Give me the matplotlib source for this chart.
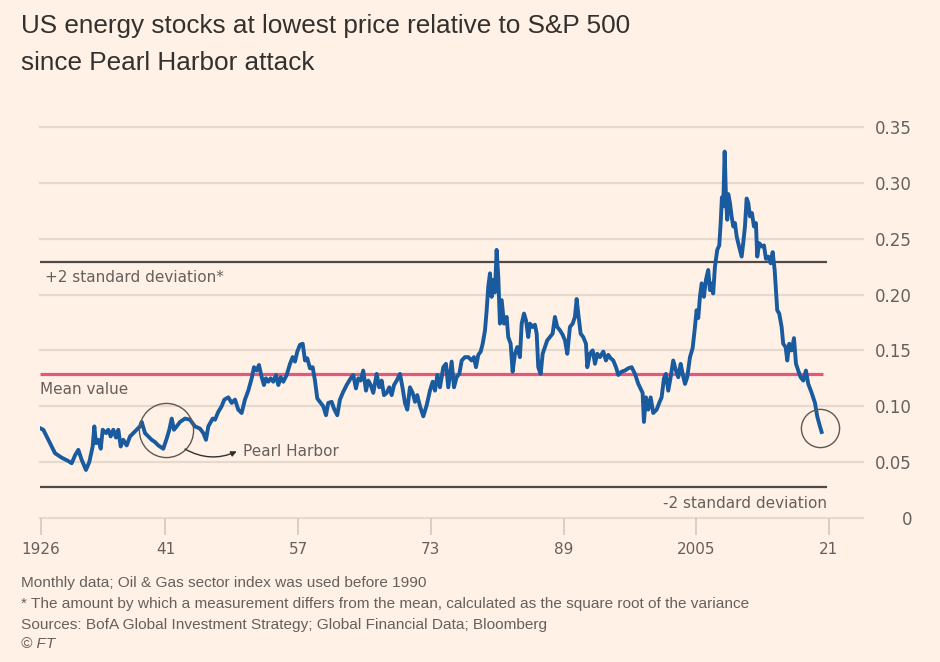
import matplotlib
matplotlib.use("Agg")
import matplotlib.pyplot as plt

# ---------------- data ----------------
years = [
 1926.00,1926.28,1926.88,1927.69,1928.50,1929.29,1929.70,1930.10,1930.50,1930.91,
 1931.42,1931.82,1932.23,1932.43,1932.63,1932.91,1933.20,1933.44,1933.84,1934.11,
 1934.40,1934.72,1935.04,1935.32,1935.61,1935.92,1936.33,1936.73,1937.13,1937.54,
 1937.93,1938.14,1938.54,1938.94,1939.34,1939.74,1940.14,1940.74,1941.15,1941.47,
 1941.76,1942.03,1942.36,1942.76,1943.36,1943.96,1944.56,1945.17,1945.57,1945.89,
 1946.17,1946.70,1946.98,1947.37,1947.78,1948.10,1948.58,1948.99,1949.39,1949.78,
 1950.19,1950.59,1950.99,1951.40,1951.68,1952.00,1952.28,1952.61,1952.88,1953.12,
 1953.40,1953.69,1954.00,1954.33,1954.61,1954.90,1955.21,1955.62,1956.02,1956.34,
 1956.62,1956.90,1957.22,1957.55,1957.83,1958.10,1958.43,1958.75,1959.03,1959.31,
 1959.72,1960.03,1960.36,1960.63,1961.04,1961.32,1961.72,1962.04,1962.44,1962.85,
 1963.33,1963.65,1963.97,1964.25,1964.54,1964.85,1965.18,1965.46,1965.75,1966.06,
 1966.47,1966.78,1967.07,1967.35,1967.68,1967.99,1968.28,1968.56,1968.88,1969.28,
 1969.60,1969.88,1970.16,1970.48,1970.81,1971.09,1971.36,1971.69,1972.09,1972.50,
 1972.89,1973.22,1973.50,1973.78,1974.10,1974.50,1974.82,1975.10,1975.51,1975.79,
 1976.11,1976.43,1976.72,1977.11,1977.51,1977.92,1978.20,1978.44,1978.72,1979.01,
 1979.25,1979.53,1979.73,1979.92,1980.13,1980.33,1980.53,1980.73,1980.93,1981.13,
 1981.33,1981.54,1981.82,1982.14,1982.33,1982.62,1982.86,1983.14,1983.42,1983.74,
 1983.95,1984.23,1984.47,1984.74,1984.95,1985.27,1985.55,1985.76,1985.95,1986.24,
 1986.48,1986.76,1987.03,1987.36,1987.68,1987.96,1988.24,1988.57,1988.89,1989.17,
 1989.45,1989.77,1990.10,1990.37,1990.58,1990.77,1991.06,1991.37,1991.70,1991.86,
 1992.18,1992.51,1992.79,1993.06,1993.39,1993.79,1994.11,1994.39,1994.68,1994.99,
 1995.32,1995.60,1996.00,1996.40,1996.80,1997.21,1997.61,1998.01,1998.21,1998.53,
 1998.69,1998.93,1999.21,1999.50,1999.81,2000.22,2000.53,2000.82,2001.10,2001.34,
 2001.62,2001.91,2002.22,2002.55,2002.83,2003.12,2003.36,2003.64,2003.91,2004.24,
 2004.56,2004.84,2005.04,2005.24,2005.44,2005.65,2005.92,2006.16,2006.44,2006.65,
 2006.85,2007.04,2007.25,2007.53,2007.77,2007.94,2008.09,2008.25,2008.42,2008.58,
 2008.73,2008.85,2009.06,2009.26,2009.46,2009.66,2009.87,2010.06,2010.27,2010.47,
 2010.66,2010.87,2011.07,2011.27,2011.47,2011.71,2011.95,2012.19,2012.35,2012.59,
 2012.88,2013.16,2013.40,2013.68,2013.96,2014.21,2014.45,2014.60,2014.76,2015.00,
 2015.29,2015.48,2015.77,2015.97,2016.21,2016.50,2016.78,2017.02,2017.29,2017.58,
 2017.90,2018.22,2018.50,2018.91,2019.31,2019.58,2019.91,2020.11]

ratio = [
 0.080,0.079,0.070,0.058,0.054,0.051,0.049,0.056,0.061,0.052,
 0.043,0.050,0.064,0.082,0.067,0.070,0.062,0.079,0.076,0.079,
 0.073,0.079,0.072,0.079,0.064,0.070,0.065,0.073,0.076,0.079,
 0.082,0.086,0.076,0.073,0.070,0.068,0.065,0.062,0.071,0.079,
 0.089,0.079,0.082,0.086,0.089,0.088,0.082,0.080,0.076,0.070,
 0.082,0.089,0.088,0.095,0.100,0.106,0.108,0.103,0.106,0.097,
 0.094,0.106,0.114,0.125,0.135,0.132,0.137,0.126,0.119,0.125,
 0.122,0.125,0.122,0.128,0.119,0.126,0.122,0.128,0.138,0.144,
 0.140,0.149,0.155,0.156,0.141,0.143,0.134,0.135,0.123,0.107,
 0.103,0.100,0.092,0.103,0.104,0.098,0.092,0.106,0.113,0.119,
 0.125,0.128,0.116,0.125,0.123,0.132,0.114,0.123,0.119,0.112,
 0.129,0.117,0.123,0.110,0.112,0.117,0.110,0.119,0.123,0.129,
 0.116,0.103,0.097,0.117,0.112,0.104,0.110,0.100,0.091,0.101,
 0.114,0.122,0.114,0.128,0.117,0.135,0.138,0.117,0.140,0.117,
 0.126,0.129,0.141,0.144,0.144,0.141,0.144,0.135,0.146,0.149,
 0.156,0.168,0.186,0.207,0.219,0.198,0.213,0.202,0.240,0.216,
 0.174,0.195,0.174,0.180,0.162,0.156,0.131,0.147,0.153,0.144,
 0.174,0.183,0.177,0.162,0.174,0.171,0.173,0.165,0.135,0.129,
 0.147,0.153,0.159,0.162,0.165,0.180,0.171,0.168,0.164,0.159,
 0.147,0.171,0.174,0.180,0.196,0.183,0.165,0.162,0.156,0.135,
 0.147,0.150,0.138,0.147,0.144,0.149,0.141,0.146,0.143,0.141,
 0.135,0.128,0.131,0.132,0.134,0.135,0.129,0.120,0.117,0.112,
 0.086,0.108,0.097,0.108,0.094,0.097,0.103,0.108,0.125,0.129,
 0.114,0.126,0.141,0.132,0.126,0.138,0.129,0.120,0.126,0.144,
 0.152,0.171,0.186,0.179,0.198,0.210,0.198,0.213,0.222,0.204,
 0.210,0.201,0.225,0.240,0.244,0.264,0.287,0.279,0.328,0.287,
 0.267,0.290,0.282,0.270,0.261,0.264,0.252,0.246,0.240,0.234,
 0.246,0.261,0.286,0.282,0.270,0.273,0.261,0.264,0.234,0.246,
 0.243,0.244,0.232,0.234,0.228,0.238,0.222,0.204,0.186,0.183,
 0.171,0.156,0.153,0.141,0.156,0.150,0.161,0.138,0.132,0.126,
 0.123,0.132,0.120,0.112,0.103,0.091,0.082,0.077]

mean_value = 0.129
plus_2sd = 0.229
minus_2sd = 0.028

x_ticks = [1926, 1941, 1957, 1973, 1989, 2005, 2021]
x_tick_labels = ["1926", "41", "57", "73", "89", "2005", "21"]
y_ticks = [0, 0.05, 0.10, 0.15, 0.20, 0.25, 0.30, 0.35]
y_tick_labels = ["0", "0.05", "0.10", "0.15", "0.20", "0.25", "0.30", "0.35"]

pearl_harbor = (1941.07, 0.079)
latest = (2019.9, 0.0805)

title_lines = ["US energy stocks at lowest price relative to S&P 500",
               "since Pearl Harbor attack"]
notes = ["Monthly data; Oil & Gas sector index was used before 1990",
         "* The amount by which a measurement differs from the mean, calculated as the square root of the variance",
         "Sources: BofA Global Investment Strategy; Global Financial Data; Bloomberg"]

# ---------------- style ----------------
BG = "#FFF1E5"
GRID = "#E6D9CE"
TICKC = "#CFC5BB"
TXT = "#66605C"
DARK = "#33302E"
BLUE = "#1A5A9F"
PINK = "#E5587E"
SDC = "#4F4A47"

W, H = 940, 662
fig = plt.figure(figsize=(W / 100, H / 100), dpi=100, facecolor=BG)
ax = fig.add_axes([40 / W, 1 - 518 / H, (863 - 40) / W, (518 - 127) / H])
ax.set_facecolor(BG)

xl = (1925.88, 2025.1)
ax.set_xlim(*xl)
ax.set_ylim(0, 0.35)

for s in ax.spines.values():
    s.set_visible(False)

for yv in y_ticks:
    ax.axhline(yv, color=GRID, lw=1.6, zorder=1, clip_on=False)

ax.hlines([plus_2sd, minus_2sd], xl[0], 2020.76, color=SDC, lw=1.6, zorder=2)
ax.hlines(mean_value, xl[0], 2020.3, color=PINK, lw=2.3, zorder=2)

ax.plot(years, ratio, color=BLUE, lw=2.8, solid_joinstyle="round", zorder=3)

# circles
ax.plot([pearl_harbor[0]], [pearl_harbor[1]], marker="o", ms=39, mfc="none",
        mec="#5E5854", mew=1.0, zorder=4, clip_on=False)
ax.plot([latest[0]], [latest[1]], marker="o", ms=27.5, mfc="none",
        mec="#5E5854", mew=1.0, zorder=4, clip_on=False)
ax.annotate("", xy=(1949.6, 0.0596), xytext=(1943.36, 0.0617),
            arrowprops=dict(arrowstyle="-|>", color=DARK, lw=1.0,
                            connectionstyle="arc3,rad=0.25",
                            shrinkA=0, shrinkB=0, mutation_scale=8), zorder=4)

# ticks
ax.set_xticks(x_ticks)
ax.set_xticklabels(x_tick_labels)
ax.tick_params(axis="x", direction="out", length=12.5, width=1.1, color=TICKC,
               pad=5, labelsize=11, labelcolor=TXT)
ax.yaxis.tick_right()
ax.set_yticks(y_ticks)
ax.set_yticklabels(y_tick_labels)
ax.tick_params(axis="y", length=0, pad=35.3, labelsize=12, labelcolor=TXT)
for lbl in ax.get_yticklabels():
    lbl.set_horizontalalignment("right")

# annotations
ax.text(1926.48, 0.2156, "+2 standard deviation*", fontsize=11, color=TXT,
        ha="left", va="center")
ax.text(xl[0], 0.1154, "Mean value", fontsize=11, color=TXT,
        ha="left", va="center")
ax.text(2020.76, 0.0134, "-2 standard deviation", fontsize=11, color=TXT,
        ha="right", va="center")
ax.text(1950.35, 0.0599, "Pearl Harbor", fontsize=11, color=TXT,
        ha="left", va="center")

# title and notes
TF = ["Liberation Sans", "DejaVu Sans"]
fig.text(21 / W, 1 - 33 / H, title_lines[0], fontsize=18.8, color=DARK,
         family=TF, va="baseline", ha="left")
fig.text(21 / W, 1 - 70 / H, title_lines[1], fontsize=18.8, color=DARK,
         family=TF, va="baseline", ha="left")
for i, (t, yb) in enumerate(zip(notes, [587, 608, 629])):
    fig.text(21 / W, 1 - yb / H, t, fontsize=11.05, color=TXT, family=TF,
             va="baseline", ha="left")
fig.text(21 / W, 1 - 648 / H, "© FT", fontsize=11, color=TXT, family=TF,
         style="italic", va="baseline", ha="left")

fig.savefig("out.png", dpi=100, facecolor=BG)
